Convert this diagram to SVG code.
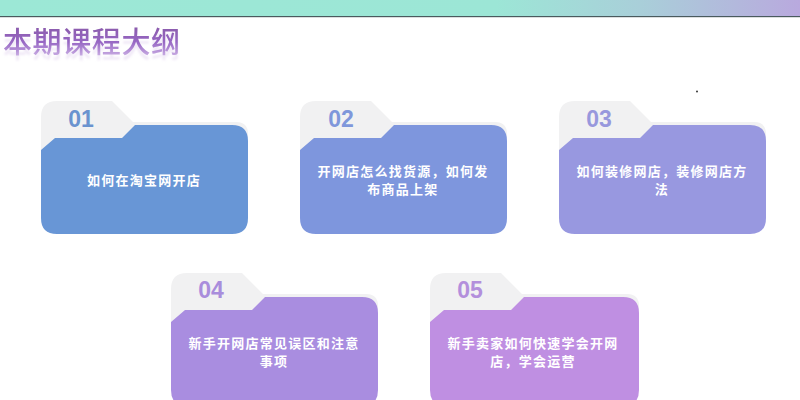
<svg xmlns="http://www.w3.org/2000/svg" width="800" height="400" viewBox="0 0 800 400">
<style>
.t{font-family:"Noto Sans CJK SC","Noto Sans",sans-serif;font-size:13px;font-weight:700;fill:#fff;text-anchor:middle;letter-spacing:1.25px}
.n{font-family:"Liberation Sans",Arial,sans-serif;font-size:23px;font-weight:700;text-anchor:middle}
.title{font-family:"Noto Sans CJK SC","Noto Sans",sans-serif;font-size:29px;font-weight:500;letter-spacing:.6px}
</style>
<defs>
<linearGradient id="bar" x1="0" x2="1" y1="0" y2="0">
<stop offset="0" stop-color="#9ce8d6"/><stop offset=".62" stop-color="#9ce6d6"/><stop offset=".8" stop-color="#a9cfd9"/><stop offset="1" stop-color="#b9a9de"/>
</linearGradient>
<linearGradient id="tg" x1="0" x2="0" y1="0" y2="1">
<stop offset="0" stop-color="#84559f"/><stop offset=".55" stop-color="#9767c4"/><stop offset=".85" stop-color="#c4a6e0"/><stop offset="1" stop-color="#e6daf2"/>
</linearGradient>
<filter id="refl" x="-5%" y="-20%" width="110%" height="160%">
<feOffset in="SourceAlpha" dy="5" result="o"/>
<feGaussianBlur in="o" stdDeviation="0.9" result="b"/>
<feFlood flood-color="#d4c0e8" flood-opacity=".35"/>
<feComposite in2="b" operator="in" result="s"/>
<feMerge><feMergeNode in="s"/><feMergeNode in="SourceGraphic"/></feMerge>
</filter>
<path id="back" d="M41 117Q41 101 57 101H112L133 122H236Q248 122 248 134V170H41Z" fill="#f1f1f2"/>
<path id="front" d="M41 150L55 138H122L135 125H232Q248 125 248 141V218Q248 234 232 234H57Q41 234 41 218Z"/>
</defs>
<rect width="800" height="400" fill="#fff"/>
<rect width="800" height="16" fill="url(#bar)"/>
<rect y="16" width="800" height="1.2" fill="#4a5a5e"/>
<text class="title" x="3" y="53" fill="url(#tg)" filter="url(#refl)">本期课程大纲</text>
<circle cx="697" cy="91.5" r="0.9" fill="#222"/>
<g id="node-01">
<use href="#back"/><use href="#front" fill="#6896d6"/>
<text class="n" x="81" y="127" fill="#6a93cf">01</text>
<text class="t" x="144" y="185">如何在淘宝网开店</text>
</g>
<g id="node-02" transform="translate(259 0)">
<use href="#back"/><use href="#front" fill="#7e96dd"/>
<text class="n" x="82" y="127" fill="#7f97db">02</text>
<text class="t" x="144" y="176">开网店怎么找货源，如何发</text>
<text class="t" x="144" y="194">布商品上架</text>
</g>
<g id="node-03" transform="translate(518 0)">
<use href="#back"/><use href="#front" fill="#9898e0"/>
<text class="n" x="81" y="127" fill="#9898dd">03</text>
<text class="t" x="144" y="176">如何装修网店，装修网店方</text>
<text class="t" x="144" y="194">法</text>
</g>
<g id="node-04" transform="translate(130 172)">
<use href="#back"/><use href="#front" fill="#a98de0"/>
<text class="n" x="81" y="126" fill="#a98ddc">04</text>
<text class="t" x="144" y="176">新手开网店常见误区和注意</text>
<text class="t" x="144" y="194">事项</text>
</g>
<g id="node-05" transform="translate(389 172)">
<path d="M41 117Q41 101 57 101H112L133 122H238Q250 122 250 134V170H41Z" fill="#f1f1f2"/>
<path d="M41 150L55 138H122L135 125H234Q250 125 250 141V218Q250 234 234 234H57Q41 234 41 218Z" fill="#bf8fe2"/>
<text class="n" x="81" y="126" fill="#b38fdc">05</text>
<text class="t" x="144" y="176">新手卖家如何快速学会开网</text>
<text class="t" x="144" y="194">店，学会运营</text>
</g>
<g id="connectors"></g>
</svg>
